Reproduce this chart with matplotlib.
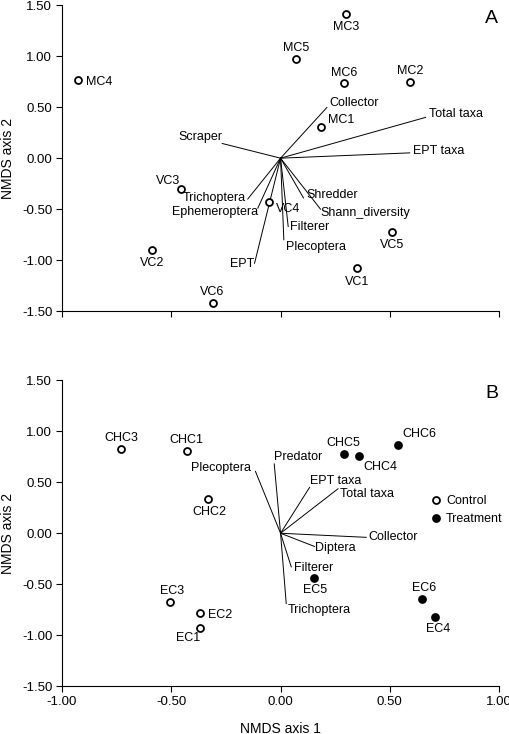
# NMDS ordination plots, two panels (A: MC/VC sites, B: CHC/EC sites)
import matplotlib
matplotlib.use('Agg')
import matplotlib.pyplot as plt
import numpy as np

plt.rcParams['font.family'] = ['Liberation Sans', 'DejaVu Sans']
plt.rcParams['axes.unicode_minus'] = False

# ---- panel A data ----
sitesA = ['MC3', 'MC5', 'MC6', 'MC2', 'MC4', 'MC1', 'VC3', 'VC4', 'VC2', 'VC5', 'VC1', 'VC6']
xA = [0.30, 0.069, 0.289, 0.592, -0.927, 0.186, -0.455, -0.052, -0.586, 0.508, 0.351, -0.311]
yA = [1.41, 0.97, 0.74, 0.75, 0.77, 0.31, -0.30, -0.43, -0.90, -0.72, -1.075, -1.42]

vecA = ['Collector', 'Total taxa', 'EPT taxa', 'Scraper', 'Trichoptera', 'Ephemeroptera',
        'EPT', 'Filterer', 'Plecoptera', 'Shredder', 'Shann_diversity']
vxA = [0.212, 0.664, 0.591, -0.267, -0.150, -0.104, -0.119, 0.035, 0.015, 0.105, 0.183]
vyA = [0.497, 0.40, 0.052, 0.144, -0.40, -0.49, -1.03, -0.67, -0.80, -0.39, -0.50]

# ---- panel B data ----
sitesB = ['CHC3', 'CHC1', 'CHC2', 'CHC5', 'CHC4', 'CHC6', 'EC3', 'EC2', 'EC1', 'EC5', 'EC6', 'EC4']
xB = [-0.728, -0.429, -0.330, 0.289, 0.360, 0.539, -0.505, -0.369, -0.369, 0.153, 0.647, 0.708]
yB = [0.828, 0.808, 0.335, 0.779, 0.756, 0.864, -0.677, -0.785, -0.925, -0.436, -0.648, -0.821]
groupB = ['Control', 'Control', 'Control', 'Treatment', 'Treatment', 'Treatment',
          'Control', 'Control', 'Control', 'Treatment', 'Treatment', 'Treatment']

vecB = ['Plecoptera', 'Predator', 'EPT taxa', 'Total taxa', 'Collector', 'Diptera',
        'Filterer', 'Trichoptera']
vxB = [-0.115, -0.029, 0.133, 0.263, 0.392, 0.156, 0.049, 0.026]
vyB = [0.607, 0.68, 0.45, 0.436, -0.04, -0.13, -0.33, -0.69]

ticks = [-1.0, -0.5, 0.0, 0.5, 1.0]
yticks = [-1.5, -1.0, -0.5, 0.0, 0.5, 1.0, 1.5]

# label placement (pixel offsets dx, dy, horizontal alignment)
site_lblA = [(0, -13, 'center'), (0, 11, 'center'), (0, 10, 'center'), (0, 11, 'center'),
             (8, -2, 'left'), (7, 7, 'left'), (-13, 8, 'center'), (7, -7, 'left'),
             (0, -13, 'center'), (0, -13, 'center'), (0, -14, 'center'), (0, 11, 'center')]
vec_lblA = [(2, 4, 'left'), (3, 3, 'left'), (3, 2, 'left'), (0, 6, 'right'), (-2, 1, 'right'),
            (0, -4, 'right'), (0, -1, 'right'), (2, 0, 'left'), (2, -7, 'left'),
            (3, 3, 'left'), (0, -4, 'left')]
site_lblB = [(0, 11, 'center'), (0, 11, 'center'), (1, -13, 'center'), (0, 11, 'center'),
             (21, -11, 'center'), (4, 11, 'left'), (2, 11, 'center'), (8, -2, 'left'),
             (-12, -10, 'center'), (1, -12, 'center'), (2, 11, 'center'), (3, -12, 'center')]
vec_lblB = [(-4, 3, 'right'), (0, 7, 'left'), (0, 6, 'left'), (2, -5, 'left'), (2, 0, 'left'),
            (0, -1, 'left'), (3, -1, 'left'), (1, -6, 'left')]

FS = 9
PX = 0.72  # pixels -> points at 100 dpi

fig = plt.figure(figsize=(5.10, 7.34), dpi=100)
axA = fig.add_axes([0.1216, 0.576, 0.857, 0.417])
axB = fig.add_axes([0.1216, 0.065, 0.857, 0.417])


def style(ax, letter, xlabels):
    ax.set_xlim(-1, 1)
    ax.set_ylim(-1.5, 1.5)
    ax.spines['top'].set_visible(False)
    ax.spines['right'].set_visible(False)
    ax.spines['left'].set_linewidth(0.8)
    ax.spines['bottom'].set_linewidth(0.8)
    ax.set_xticks(ticks)
    ax.set_yticks(yticks)
    ax.set_yticklabels(['%.2f' % t for t in yticks], fontsize=9.5)
    if xlabels:
        ax.set_xticklabels(['%.2f' % t for t in ticks], fontsize=9.5)
    else:
        ax.set_xticklabels([])
    ax.tick_params(direction='out', length=4, width=0.8, pad=3)
    ax.set_ylabel('NMDS axis 2', fontsize=10, labelpad=5)
    ax.text(0.998, 0.985, letter, transform=ax.transAxes, fontsize=14, ha='right', va='top')


def vectors(ax, names, vx, vy, lbl):
    for n, x, y, (dx, dy, ha) in zip(names, vx, vy, lbl):
        ax.plot([0, x], [0, y], color='black', lw=0.7)
        ax.annotate(n, (x, y), xytext=(dx * PX, dy * PX), textcoords='offset points',
                    ha=ha, va='center', fontsize=FS)


def sites(ax, names, xs, ys, lbl):
    for n, x, y, (dx, dy, ha) in zip(names, xs, ys, lbl):
        ax.annotate(n, (x, y), xytext=(dx * PX, dy * PX), textcoords='offset points',
                    ha=ha, va='center', fontsize=FS)


# panel A
style(axA, 'A', False)
vectors(axA, vecA, vxA, vyA, vec_lblA)
axA.plot(xA, yA, 'o', ms=5, mfc='white', mec='black', mew=1.3, ls='none')
sites(axA, sitesA, xA, yA, site_lblA)

# panel B
style(axB, 'B', True)
axB.set_xlabel('NMDS axis 1', fontsize=10, labelpad=10)
vectors(axB, vecB, vxB, vyB, vec_lblB)
xB = np.array(xB)
yB = np.array(yB)
g = np.array(groupB)
axB.plot(xB[g == 'Control'], yB[g == 'Control'], 'o', ms=5, mfc='white', mec='black',
         mew=1.3, ls='none', label='Control')
axB.plot(xB[g == 'Treatment'], yB[g == 'Treatment'], 'o', ms=5, mfc='black', mec='black',
         mew=1.3, ls='none', label='Treatment')
sites(axB, sitesB, xB, yB, site_lblB)
axB.legend(loc='center left', bbox_to_anchor=(0.83, 0.575), frameon=False, fontsize=FS,
           handlelength=0.8, handletextpad=0.4, labelspacing=0.45, borderpad=0)

fig.savefig('out.png', dpi=100)
